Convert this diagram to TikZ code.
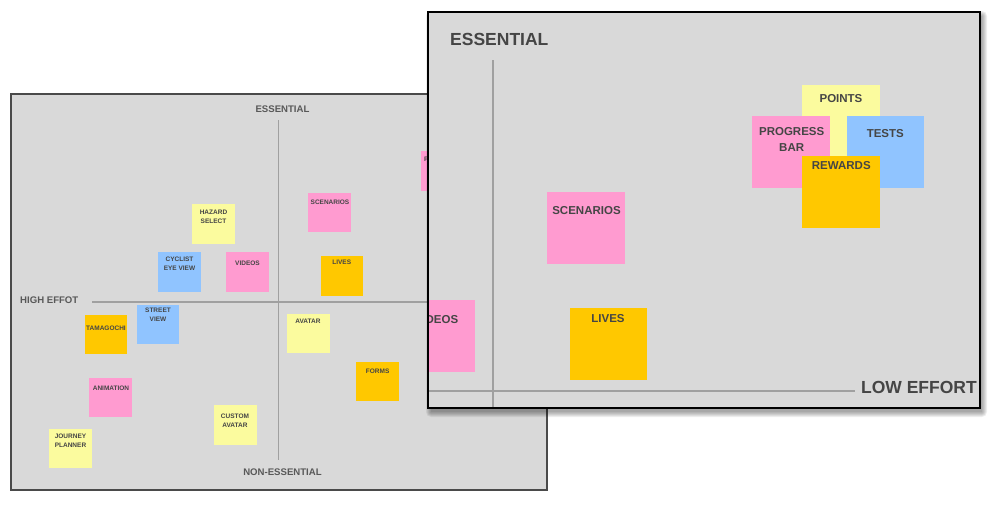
\documentclass[tikz,border=0pt]{standalone}
\usepackage{fontspec}
\setmainfont{Liberation Sans}
\usetikzlibrary{fit,calc}
\definecolor{board}{HTML}{D9D9D9}
\definecolor{notey}{HTML}{FBFB9E}
\definecolor{notep}{HTML}{FF9BD0}
\definecolor{noteb}{HTML}{90C4FF}
\definecolor{noteo}{HTML}{FFC800}
\definecolor{axisgray}{HTML}{A0A0A0}
\definecolor{ink}{HTML}{454545}
\definecolor{frame}{HTML}{4A4A4A}

% a sticky note spanning two corners
\newcommand\stickynote[4]{\node[note, fill=#2, fit={#3 #4}] (#1) {};}

\begin{document}
\begin{tikzpicture}[x=1pt,y=-1pt,
  note/.style={inner sep=0pt, draw=none},
  boardbox/.style={inner sep=0pt, fill=board},
  smalltext/.style={font=\fontsize{6.5}{8.6}\selectfont\bfseries, text=ink, align=center, inner sep=0pt},
  bigtext/.style={font=\fontsize{11.5}{15.4}\selectfont\bfseries, text=ink, align=center, inner sep=0pt},
  axislabel/.style={font=\fontsize{9.6}{11}\selectfont\bfseries, text=ink!90, inner sep=0pt},
  biglabel/.style={font=\fontsize{17.5}{20}\selectfont\bfseries, text=ink, inner sep=0pt},
  thinaxis/.style={draw=axisgray, line width=1.3pt},
  thickaxis/.style={draw=axisgray, line width=2.6pt}]
\useasboundingbox (0,0) rectangle (997,507);

% ---------- overview board ----------
\node[boardbox, draw=frame, line width=1.5pt, fit={(11,94) (547,490)}] (leftboard) {};
\coordinate (lv-top) at (278.5,120);
\coordinate (lv-bot) at (278.5,460);
\coordinate (lh-left) at (92,302);
\coordinate (lh-right) at (530,302);
\draw[thinaxis] (lv-top) -- (lv-bot);
\draw[thinaxis] (lh-left) -- (lh-right);
\node[axislabel] (l-ess) at (282.5,109) {ESSENTIAL};
\node[axislabel, anchor=west] (l-high) at (20,300) {HIGH EFFOT};
\node[axislabel] (l-non) at (282.5,472) {NON-ESSENTIAL};

\stickynote{hazard}{notey}{(192,204)}{(235,244)}
\node[smalltext] (hazard-t) at (213.5,216.5) {HAZARD\\SELECT};
\stickynote{cyclist}{noteb}{(158,252)}{(201,292)}
\node[smalltext] (cyclist-t) at (179.5,264) {CYCLIST\\EYE VIEW};
\stickynote{videos}{notep}{(226,252)}{(269,292)}
\node[smalltext] (videos-t) at (247.5,263) {VIDEOS};
\stickynote{scen}{notep}{(308,193)}{(351,232)}
\node[smalltext] (scen-t) at (330,202.7) {SCENARIOS};
\stickynote{lives}{noteo}{(321,256)}{(363,296)}
\node[smalltext] (lives-t) at (341.7,262) {LIVES};
\stickynote{progress}{notep}{(421,151)}{(464,191)}
\node[smalltext] (progress-t) at (442.5,164) {PROGRESS\\BAR};
\stickynote{tama}{noteo}{(85,315)}{(127,354)}
\node[smalltext] (tama-t) at (106,328) {TAMAGOCHI};
\stickynote{street}{noteb}{(137,305)}{(179,344)}
\node[smalltext] (street-t) at (158,314.5) {STREET\\VIEW};
\stickynote{anim}{notep}{(89,378)}{(132,417)}
\node[smalltext] (anim-t) at (111,388.7) {ANIMATION};
\stickynote{journey}{notey}{(49,429)}{(92,468)}
\node[smalltext] (journey-t) at (70.5,441) {JOURNEY\\PLANNER};
\stickynote{custom}{notey}{(214,405)}{(257,445)}
\node[smalltext] (custom-t) at (235,420.7) {CUSTOM\\AVATAR};
\stickynote{avatar}{notey}{(287,314)}{(330,353)}
\node[smalltext] (avatar-t) at (308,321.3) {AVATAR};
\stickynote{forms}{noteo}{(356,362)}{(399,401)}
\node[smalltext] (forms-t) at (377.7,371.3) {FORMS};

% ---------- close-up board ----------
\coordinate (rb-nw) at (428,12);
\coordinate (rb-se) at (980,408);
% soft drop shadow built from stacked translucent layers
\foreach \s in {0,1,...,5}
  \fill[black, opacity=0.065, rounded corners=\s pt]
    ($(rb-nw)+(3-\s,4-\s)$) rectangle ($(rb-se)+(2+\s,4+\s)$);
\node[boardbox, fit={(rb-nw) (rb-se)}] (rightboard) {};
\begin{scope}
\clip (rightboard.south west) rectangle (rightboard.north east);
\coordinate (rv-top) at (493,60);
\coordinate (rv-bot) at (493,410);
\coordinate (rh-left) at (426,391);
\coordinate (rh-right) at (855,391);
\draw[thickaxis] (rv-top) -- (rv-bot);
\draw[thickaxis] (rh-left) -- (rh-right);
\stickynote{zvideos}{notep}{(398,300)}{(475,372)}
\node[bigtext] (zvideos-t) at (436.5,320) {VIDEOS};
\end{scope}
\node[biglabel, anchor=west] (r-ess) at (450,39) {ESSENTIAL};
\node[biglabel, anchor=east] (r-low) at (977,387) {LOW EFFORT};

\stickynote{zscen}{notep}{(547,192)}{(625,264)}
\node[bigtext] (zscen-t) at (586.5,211) {SCENARIOS};
\stickynote{zlives}{noteo}{(570,308)}{(647,380)}
\node[bigtext] (zlives-t) at (608,319) {LIVES};
\stickynote{zpoints}{notey}{(802,85)}{(880,157)}
\node[bigtext] (zpoints-t) at (841,99) {POINTS};
\stickynote{zprogress}{notep}{(752,116)}{(830,188)}
\node[bigtext] (zprogress-t) at (791.7,139.3) {PROGRESS\\BAR};
\stickynote{ztests}{noteb}{(847,116)}{(924,188)}
\node[bigtext] (ztests-t) at (885.3,134) {TESTS};
\stickynote{zrewards}{noteo}{(802,156)}{(880,228)}
\node[bigtext] (zrewards-t) at (841.3,166) {REWARDS};

\draw[black, line width=1.5pt] (rightboard.south west) rectangle (rightboard.north east);
\end{tikzpicture}
\end{document}
